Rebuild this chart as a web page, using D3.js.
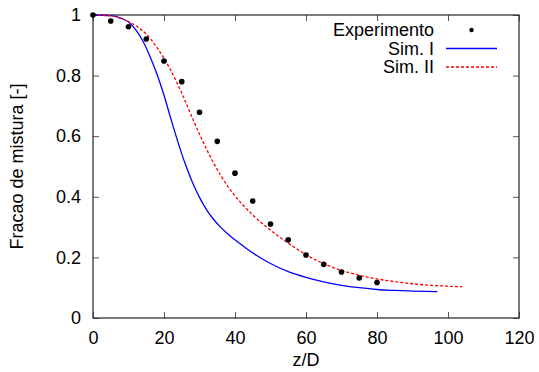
<!DOCTYPE html>
<html>
<head>
<meta charset="utf-8">
<script src="https://cdn.jsdelivr.net/npm/d3@7"></script>
<style>
  body { margin: 0; background: #fff; }
  text { font-family: "Liberation Sans", Arial, sans-serif; }
</style>
</head>
<body>
<div id="chart"></div>
<script>
// experiment points
const expZ = [0, 5, 10, 15, 20, 25, 30, 35, 40, 45, 50, 55, 60, 65, 70, 75, 80];
const expY = [1.0, 0.98, 0.961, 0.921, 0.848, 0.780, 0.679, 0.583, 0.478, 0.386, 0.310, 0.258, 0.208, 0.177, 0.152, 0.132, 0.117];

// Sim. I
const sim1Z = [0, 5, 8, 10, 12, 14, 16, 18, 20, 22, 24, 26, 28, 30, 32, 34, 36, 38, 40, 43, 46, 50, 55, 60, 65, 70, 75, 80, 85, 90, 97];
const sim1Y = [1.0, 0.998, 0.989, 0.977, 0.952, 0.915, 0.865, 0.805, 0.735, 0.655, 0.578, 0.508, 0.448, 0.398, 0.357, 0.325, 0.299, 0.277, 0.258, 0.231, 0.207, 0.180, 0.153, 0.134, 0.119, 0.108, 0.100, 0.094, 0.091, 0.089, 0.087];

// Sim. II
const sim2Z = [0, 5, 10, 12, 15, 18, 20, 22, 25, 28, 30, 32, 34, 36, 38, 40, 42, 45, 50, 55, 60, 65, 70, 75, 80, 85, 90, 95, 100, 104];
const sim2Y = [1.0, 0.997, 0.978, 0.965, 0.937, 0.893, 0.857, 0.815, 0.742, 0.66, 0.607, 0.557, 0.511, 0.470, 0.434, 0.403, 0.376, 0.34, 0.29, 0.247, 0.209, 0.179, 0.157, 0.141, 0.129, 0.12, 0.113, 0.108, 0.105, 0.103];

const xTicks = [0, 20, 40, 60, 80, 100, 120];
const yTicks = [0, 0.2, 0.4, 0.6, 0.8, 1];
const legendNames = ["Experimento", "Sim. I", "Sim. II"];

const width = 539, height = 372;
const margin = { top: 15, right: 20, bottom: 54, left: 93 };
const iw = width - margin.left - margin.right;
const ih = height - margin.top - margin.bottom;

const svg = d3.select("#chart")
  .append("svg")
    .attr("width", width)
    .attr("height", height);

const g = svg.append("g")
  .attr("transform", "translate(" + margin.left + "," + margin.top + ")");

const x = d3.scaleLinear().domain([0, 120]).range([0, iw]);
const y = d3.scaleLinear().domain([0, 1]).range([ih, 0]);

const fmt = d => d3.format("~g")(d);

// ticks, inward on all four sides
const tickLen = 6;
const axisStyle = sel => {
  sel.select(".domain").remove();
  sel.selectAll(".tick line").attr("stroke", "#555").attr("stroke-width", 1);
  sel.selectAll(".tick text").attr("fill", "#000").style("font-size", "18px");
};

g.append("g")
  .attr("transform", "translate(0," + ih + ")")
  .call(d3.axisBottom(x).tickValues(xTicks).tickFormat(fmt).tickSizeInner(-tickLen).tickPadding(13))
  .call(axisStyle);
g.append("g")
  .call(d3.axisTop(x).tickValues(xTicks).tickFormat("").tickSizeInner(-tickLen))
  .call(axisStyle);
g.append("g")
  .call(d3.axisLeft(y).tickValues(yTicks).tickFormat(fmt).tickSizeInner(-tickLen).tickPadding(12))
  .call(axisStyle);
g.append("g")
  .attr("transform", "translate(" + iw + ",0)")
  .call(d3.axisRight(y).tickValues(yTicks).tickFormat("").tickSizeInner(-tickLen))
  .call(axisStyle);

// frame
g.append("rect")
  .attr("width", iw)
  .attr("height", ih)
  .attr("fill", "none")
  .attr("stroke", "#333")
  .attr("stroke-width", 1.3);

const line = d3.line()
  .x(d => x(d[0]))
  .y(d => y(d[1]))
  .curve(d3.curveMonotoneX);

g.append("path")
  .datum(d3.zip(sim1Z, sim1Y))
  .attr("d", line)
  .attr("fill", "none")
  .attr("stroke", "#0000ff")
  .attr("stroke-width", 1.3);

g.append("path")
  .datum(d3.zip(sim2Z, sim2Y))
  .attr("d", line)
  .attr("fill", "none")
  .attr("stroke", "#ff0000")
  .attr("stroke-width", 1.3)
  .attr("stroke-dasharray", "3,2");

g.selectAll(".dot")
  .data(d3.zip(expZ, expY))
  .enter()
  .append("circle")
    .attr("cx", d => x(d[0]))
    .attr("cy", d => y(d[1]))
    .attr("r", 2.8)
    .attr("fill", "#000");

// legend
const lg = svg.append("g");
legendNames.forEach((name, i) => {
  const yy = 30 + i * 18.5;
  lg.append("text")
    .attr("x", 434)
    .attr("y", yy)
    .attr("dy", "0.35em")
    .attr("text-anchor", "end")
    .style("font-size", "18px")
    .text(name);
});
lg.append("circle").attr("cx", 471.5).attr("cy", 30).attr("r", 2.2).attr("fill", "#000");
lg.append("line").attr("x1", 446).attr("x2", 497).attr("y1", 48.5).attr("y2", 48.5)
  .attr("stroke", "#0000ff").attr("stroke-width", 1.3);
lg.append("line").attr("x1", 446).attr("x2", 497).attr("y1", 67).attr("y2", 67)
  .attr("stroke", "#ff0000").attr("stroke-width", 1.3).attr("stroke-dasharray", "3,2");

// axis titles
svg.append("text")
  .attr("x", margin.left + iw / 2)
  .attr("y", 366)
  .attr("text-anchor", "middle")
  .style("font-size", "18px")
  .text("z/D");

svg.append("text")
  .attr("transform", "translate(23," + (margin.top + ih / 2) + ") rotate(-90)")
  .attr("text-anchor", "middle")
  .style("font-size", "18px")
  .text("Fracao de mistura [-]");
</script>
</body>
</html>
